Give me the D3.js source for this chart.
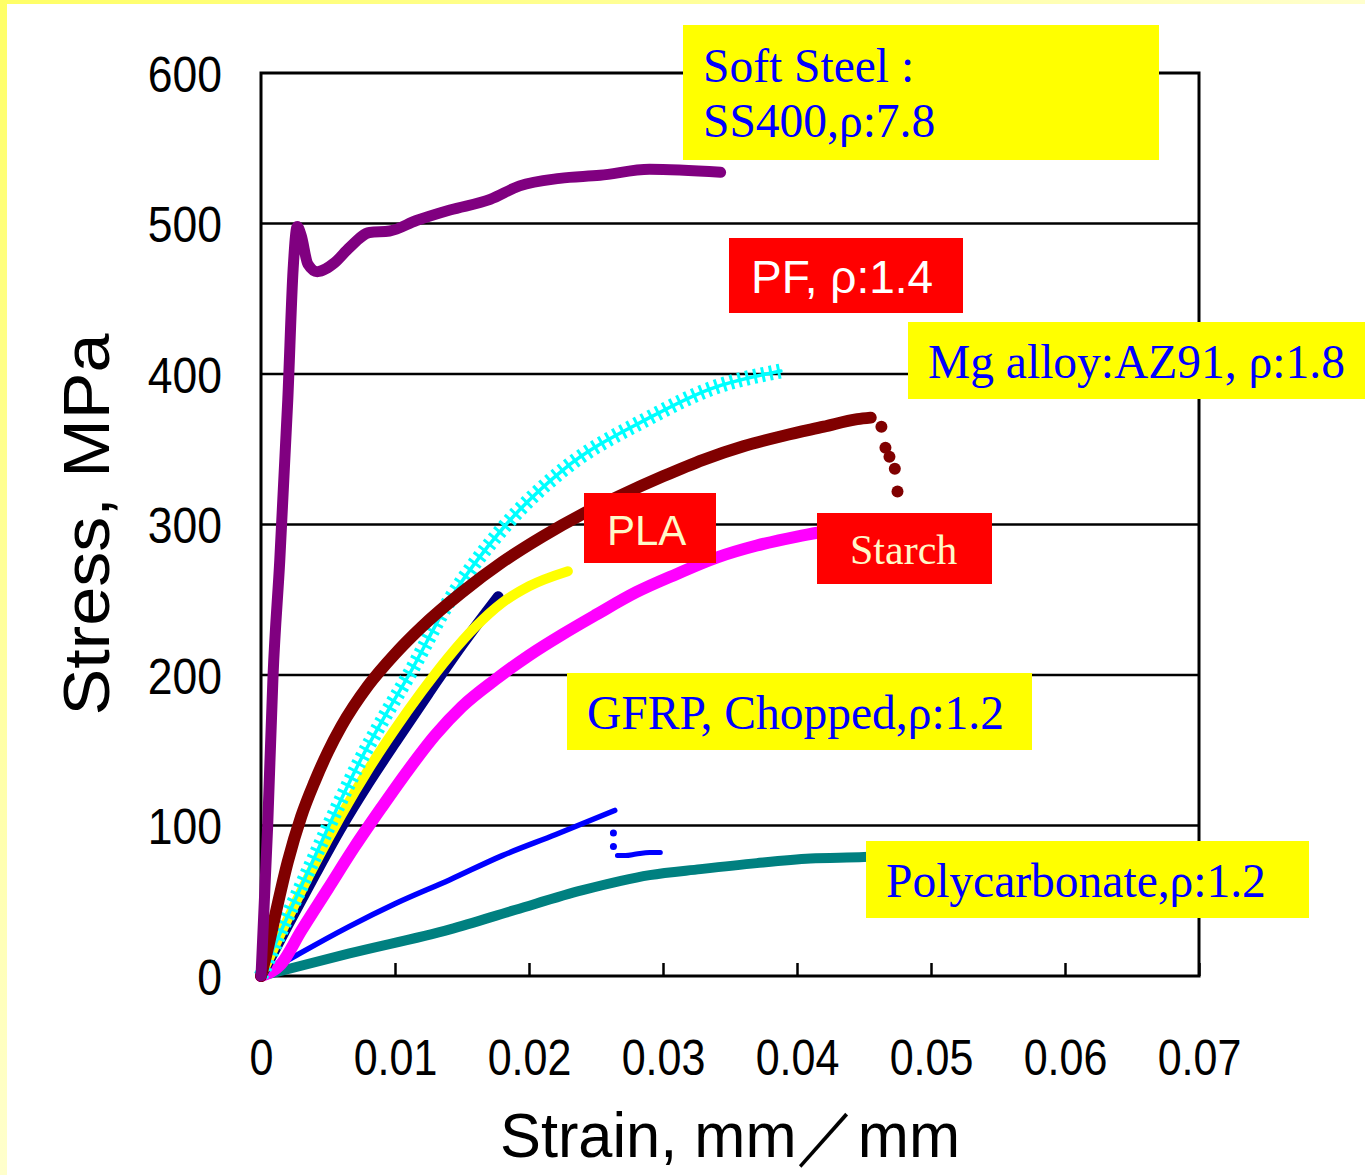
<!DOCTYPE html>
<html>
<head>
<meta charset="utf-8">
<script src="https://cdn.jsdelivr.net/npm/d3@7/dist/d3.min.js"></script>
<style>
  body { margin: 0; background: #fff; }
  svg { display: block; }
</style>
</head>
<body>
<div id="chart"></div>
<script>
// ---------------------
// DATA

var xTicks = [0, 0.01, 0.02, 0.03, 0.04, 0.05, 0.06, 0.07];
var xTickLabels = ["0", "0.01", "0.02", "0.03", "0.04", "0.05", "0.06", "0.07"];
var yTicks = [0, 100, 200, 300, 400, 500, 600];
var yTickLabels = ["0", "100", "200", "300", "400", "500", "600"];

// soft steel SS400 (purple)
var steelStrain = [0, 0.0005, 0.0009, 0.0014, 0.002, 0.0024, 0.0027, 0.003, 0.0035, 0.0042, 0.0055, 0.0066, 0.0081, 0.0096, 0.0116, 0.0141, 0.0171, 0.0193, 0.0223, 0.0253, 0.029, 0.0343];
var steelStress = [0, 100, 200, 276, 383, 470, 498, 492, 473, 468, 474, 484, 494, 495, 502, 509, 516, 525, 530, 532, 536, 534];

// PF (dark red dots)
var pfStrain = [0, 0.0005, 0.001, 0.002, 0.003, 0.004, 0.005, 0.006, 0.008, 0.010, 0.012, 0.015, 0.018, 0.021, 0.024, 0.027, 0.030, 0.033, 0.036, 0.039, 0.042, 0.0445, 0.0455];
var pfStress = [0, 18, 38, 76, 106, 129, 149, 166, 193, 214, 232, 255, 275, 292, 307, 320, 332, 343, 352, 359, 365, 370, 371];
var pfTailStrain = [0.0463, 0.0466, 0.0469, 0.0473, 0.0475];
var pfTailStress = [365, 351, 345, 337, 322];

// Mg alloy AZ91 (cyan +)
var mgStrain = [0, 0.002, 0.004, 0.0057, 0.0074, 0.0092, 0.0111, 0.0141, 0.0181, 0.0225, 0.029, 0.0335, 0.0388];
var mgStress = [0, 40, 79, 112, 143, 172, 201, 250, 298, 336, 371, 390, 402];

// GFRP chopped (navy triangles)
var gfrpStrain = [0, 0.002, 0.004, 0.006, 0.008, 0.010, 0.0125, 0.015, 0.0177];
var gfrpStress = [0, 34, 67, 99, 128, 155, 188, 220, 252];

// PLA (yellow)
var plaStrain = [0, 0.002, 0.004, 0.006, 0.008, 0.010, 0.012, 0.014, 0.016, 0.018, 0.020, 0.0229];
var plaStress = [0, 38, 74, 107, 137, 164, 189, 212, 232, 248, 259, 269];

// starch (magenta)
var starchStrain = [0, 0.0015, 0.003, 0.005, 0.007, 0.009, 0.011, 0.013, 0.015, 0.0175, 0.020, 0.0225, 0.025, 0.028, 0.031, 0.034, 0.037, 0.040, 0.044];
var starchStress = [0, 8, 30, 58, 86, 112, 137, 160, 179, 197, 213, 227, 240, 255, 267, 278, 286, 292, 298];

// second GFRP trace (blue small dots)
var blueStrain = [0, 0.0029, 0.0066, 0.010, 0.0141, 0.018, 0.022, 0.0264];
var blueStress = [0, 15, 33, 48, 64, 80, 94, 110];
var blueTailStrain = [0.0266, 0.0272, 0.028, 0.029, 0.0298];
var blueTailStress = [80, 80, 81, 82, 82];
var blueDropStrain = [0.0263, 0.0263];
var blueDropStress = [95, 86];

// polycarbonate (teal)
var pcStrain = [0, 0.0066, 0.0141, 0.019, 0.024, 0.029, 0.0328, 0.037, 0.041, 0.045, 0.047];
var pcStress = [0, 15, 31, 44, 57, 67, 71, 75, 78, 79, 80];

var notes = [
  ["Soft Steel :", "SS400,\u03c1:7.8"],
  ["PF, \u03c1:1.4"],
  ["Mg alloy:AZ91, \u03c1:1.8"],
  ["PLA"],
  ["Starch"],
  ["GFRP, Chopped,\u03c1:1.2"],
  ["Polycarbonate,\u03c1:1.2"]
];

function pts(xs, ys) {
  return xs.map(function(d, i) { return {x: d, y: ys[i]}; });
}

// ---------------------
// SETUP

var W = 1365, H = 1175;

var svg = d3.select("#chart")
  .append("svg")
    .attr("width", W)
    .attr("height", H);

var defs = svg.append("defs");
var gl = defs.append("linearGradient").attr("id", "gleft")
  .attr("x1", 0).attr("y1", 0).attr("x2", 0).attr("y2", 1);
gl.append("stop").attr("offset", 0).attr("stop-color", "#ffff66");
gl.append("stop").attr("offset", 1).attr("stop-color", "#ffffcc");
var gt = defs.append("linearGradient").attr("id", "gtop")
  .attr("x1", 0).attr("y1", 0).attr("x2", 1).attr("y2", 0);
gt.append("stop").attr("offset", 0).attr("stop-color", "#ffff66");
gt.append("stop").attr("offset", 1).attr("stop-color", "#ffffcc");

svg.append("rect").attr("x", 0).attr("y", 0).attr("width", W).attr("height", 4)
  .style("fill", "url(#gtop)");
svg.append("rect").attr("x", 0).attr("y", 0).attr("width", 7).attr("height", H)
  .style("fill", "url(#gleft)");

var x = d3.scaleLinear()
  .domain([0, 0.07])
  .range([261, 1199]);
var y = d3.scaleLinear()
  .domain([0, 600])
  .range([976, 73]);  // y reversed

// squeeze arial digits a bit, the original font is narrower
function narrow(sel, k) {
  sel.each(function() {
    this.setAttribute("textLength", this.getComputedTextLength() * k);
    this.setAttribute("lengthAdjust", "spacingAndGlyphs");
  });
}

// gridlines
svg.append("g")
  .selectAll("line")
  .data(yTicks.slice(1, -1))
  .enter()
  .append("line")
    .attr("x1", x(0))
    .attr("x2", x(0.07))
    .attr("y1", function(d) { return y(d); })
    .attr("y2", function(d) { return y(d); })
    .style("stroke", "#000")
    .style("stroke-width", 2.5);

// x axis: inner ticks + labels
var xax = d3.axisBottom(x)
  .tickValues(xTicks)
  .tickFormat(function(d, i) { return xTickLabels[i]; })
  .tickSizeInner(-13)
  .tickSizeOuter(0)
  .tickPadding(63);
var gx = svg.append("g")
  .attr("transform", "translate(0," + y(0) + ")")
  .call(xax);
gx.select(".domain").remove();
gx.selectAll("line").style("stroke", "#000").style("stroke-width", 2.5);
gx.selectAll("text")
  .style("font-family", "'Liberation Sans', Arial, sans-serif")
  .style("font-size", "50px")
  .style("fill", "#000")
  .call(narrow, 0.86);

var yax = d3.axisLeft(y)
  .tickValues(yTicks)
  .tickFormat(function(d, i) { return yTickLabels[i]; })
  .tickSize(0)
  .tickPadding(39);
var gy = svg.append("g")
  .attr("transform", "translate(" + x(0) + ",0)")
  .call(yax);
gy.select(".domain").remove();
gy.selectAll("text")
  .attr("dy", "0.36em")
  .style("font-family", "'Liberation Sans', Arial, sans-serif")
  .style("font-size", "50px")
  .style("fill", "#000")
  .call(narrow, 0.89);

// frame
svg.append("rect")
  .attr("x", x(0))
  .attr("y", y(600))
  .attr("width", x(0.07) - x(0))
  .attr("height", y(0) - y(600))
  .style("fill", "none")
  .style("stroke", "#000")
  .style("stroke-width", 3);

// axis titles
svg.append("text")
  .text("Stress, MPa")
  .attr("transform", "translate(109," + ((y(0) + y(600)) / 2) + ") rotate(-90)")
  .attr("text-anchor", "middle")
  .attr("textLength", 382)
  .attr("lengthAdjust", "spacingAndGlyphs")
  .style("font-family", "'Liberation Sans', Arial, sans-serif")
  .style("font-size", "64px");

svg.append("text")
  .text("Strain, mm\uff0fmm")
  .attr("x", (x(0) + x(0.07)) / 2)
  .attr("y", 1157)
  .attr("text-anchor", "middle")
  .attr("textLength", 460)
  .attr("lengthAdjust", "spacingAndGlyphs")
  .style("font-family", "'Liberation Sans', Arial, sans-serif")
  .style("font-size", "63px");

// ---------------------
// CURVES

var line = d3.line()
  .x(function(d) { return x(d.x); })
  .y(function(d) { return y(d.y); })
  .curve(d3.curveMonotoneX);

function curve(data, color, w, dash) {
  var p = svg.append("path")
    .datum(data)
    .attr("d", line)
    .style("fill", "none")
    .style("stroke", color)
    .style("stroke-width", w)
    .style("stroke-linejoin", "round")
    .style("stroke-linecap", "round");
  if (dash) p.style("stroke-dasharray", dash).style("stroke-linecap", "butt");
  return p;
}

function dots(data, color, r) {
  svg.append("g")
    .selectAll("circle")
    .data(data)
    .enter()
    .append("circle")
      .attr("cx", function(d) { return x(d.x); })
      .attr("cy", function(d) { return y(d.y); })
      .attr("r", r)
      .style("fill", color);
}

curve(pts(pcStrain, pcStress), "#008080", 10);
curve(pts(blueStrain, blueStress), "#0000ff", 5.5);
dots(pts(blueDropStrain, blueDropStress), "#0000ff", 3.5);
curve(pts(blueTailStrain, blueTailStress), "#0000ff", 5);
curve(pts(starchStrain, starchStress), "#ff00ff", 12);
curve(pts(gfrpStrain, gfrpStress), "#000080", 11);
curve(pts(plaStrain, plaStress), "#ffff00", 10);
// cyan "+" markers: thin line plus short crossbars
curve(pts(mgStrain, mgStress), "#00ffff", 3.5);
curve(pts(mgStrain, mgStress), "#00ffff", 15, "3 5");
curve(pts(pfStrain, pfStress), "#800000", 12);
dots(pts(pfTailStrain, pfTailStress), "#800000", 6);
curve(pts(steelStrain, steelStress), "#800080", 11);

// ---------------------
// NOTE BOXES

var serif = "'Liberation Serif', 'Times New Roman', serif",
    sans = "'Liberation Sans', Arial, sans-serif";

var boxes = [
  {x: 683, y: 25, w: 476, h: 135, fill: "#ffff00", color: "#0000ff", font: serif, size: 47.5, tx: 703, ty: [82, 137]},
  {x: 729, y: 238, w: 234, h: 75, fill: "#ff0000", color: "#ffffff", font: sans, size: 46, tx: 751, ty: [293]},
  {x: 908, y: 322, w: 457, h: 77, fill: "#ffff00", color: "#0000ff", font: serif, size: 47.5, tx: 928, ty: [378]},
  {x: 584, y: 493, w: 132, h: 70, fill: "#ff0000", color: "#fff8c8", font: sans, size: 42, tx: 607, ty: [545]},
  {x: 817, y: 513, w: 175, h: 71, fill: "#ff0000", color: "#fff8c8", font: serif, size: 42, tx: 850, ty: [564]},
  {x: 567, y: 673, w: 465, h: 77, fill: "#ffff00", color: "#0000ff", font: serif, size: 47.5, tx: 587, ty: [729]},
  {x: 866, y: 841, w: 443, h: 77, fill: "#ffff00", color: "#0000ff", font: serif, size: 47.5, tx: 886, ty: [897]}
];

boxes.forEach(function(b, i) {
  svg.append("rect")
    .attr("x", b.x)
    .attr("y", b.y)
    .attr("width", b.w)
    .attr("height", b.h)
    .style("fill", b.fill);
  notes[i].forEach(function(t, j) {
    svg.append("text")
      .text(t)
      .attr("x", b.tx)
      .attr("y", b.ty[j])
      .style("font-family", b.font)
      .style("font-size", b.size + "px")
      .style("fill", b.color);
  });
});
</script>
</body>
</html>
